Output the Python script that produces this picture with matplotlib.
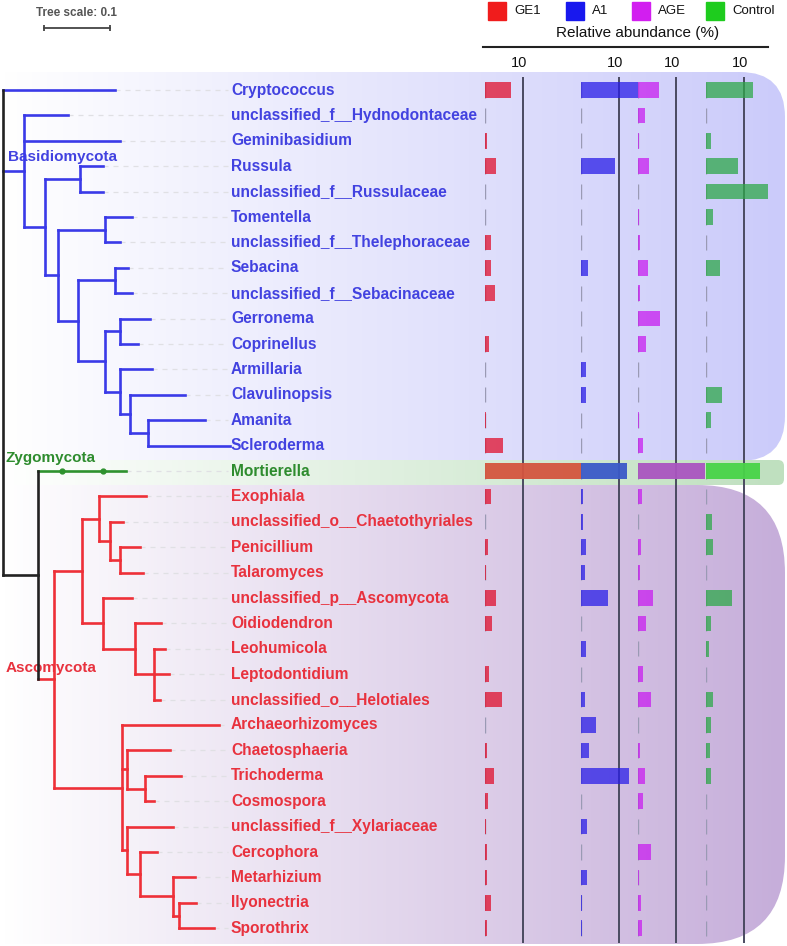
import numpy as np
import matplotlib
matplotlib.use('Agg')
import matplotlib.pyplot as plt
from matplotlib.patches import FancyBboxPatch, Rectangle
from matplotlib.colors import LinearSegmentedColormap

plt.rcParams['font.family'] = ['Liberation Sans', 'DejaVu Sans']

# ---- data -------------------------------------------------------------
genera = ['Cryptococcus', 'unclassified_f__Hydnodontaceae', 'Geminibasidium', 'Russula',
          'unclassified_f__Russulaceae', 'Tomentella', 'unclassified_f__Thelephoraceae',
          'Sebacina', 'unclassified_f__Sebacinaceae', 'Gerronema', 'Coprinellus',
          'Armillaria', 'Clavulinopsis', 'Amanita', 'Scleroderma',
          'Mortierella',
          'Exophiala', 'unclassified_o__Chaetothyriales', 'Penicillium', 'Talaromyces',
          'unclassified_p__Ascomycota', 'Oidiodendron', 'Leohumicola', 'Leptodontidium',
          'unclassified_o__Helotiales', 'Archaeorhizomyces', 'Chaetosphaeria', 'Trichoderma',
          'Cosmospora', 'unclassified_f__Xylariaceae', 'Cercophora', 'Metarhizium',
          'Ilyonectria', 'Sporothrix']
phylum = ['B'] * 15 + ['Z'] + ['A'] * 18
nan = np.nan
# relative abundance (%) per group
ge1 = [6.9, 0, 0.4, 2.9, 0, 0, 1.5, 1.5, 2.6, nan, 1.1, 0, 0, 0.3, 4.6,
       25.2,
       1.5, 0, 0.7, 0.3, 2.8, 1.7, nan, 1.1, 4.5, 0, 0.5, 2.3, 0.8, 0.2, 0.5, 0.5, 1.5, 0.4]
a1 = [15.0, 0, 0, 9.0, 0, 0, 0, 1.7, 0, 0, 0, 1.2, 1.3, 0, 0,
      12.0,
      0.6, 0.6, 1.2, 1.0, 7.0, 0, 1.2, 0, 1.0, 4.0, 2.0, 12.5, 0, 1.6, 0, 1.6, 0.3, 0.2]
age = [5.6, 1.8, 0.3, 3.0, 0, 0.3, 0.4, 2.5, 0.5, 5.7, 2.2, 0, 0, 0.2, 1.4,
       17.6,
       1.0, 0, 0.8, 0.4, 3.8, 2.1, 0, 1.4, 3.4, 0, 0.4, 1.7, 1.3, 0, 3.4, 0.2, 0.8, 1.1]
control = [12.3, 0, 1.3, 8.4, 16.2, 1.7, 0, 3.6, 0, 0, 0, 0, 4.3, 1.2, 0,
           14.2,
           0, 1.6, 1.8, 0, 6.9, 1.4, 0.9, 0, 1.8, 1.2, 1.0, 1.4, 0, 0, 0, 0, 0, 0]
groups = ['GE1', 'A1', 'AGE', 'Control']
highlight = 'Mortierella'

# phylogeny: leaf = (name, branch length), node = ([children], branch length)
tree = ([
    ('Cryptococcus', 0.170),
    ([
        ('unclassified_f__Hydnodontaceae', 0.067),
        ('Geminibasidium', 0.145),
        ([
            ([('Russula', 0.035), ('unclassified_f__Russulaceae', 0.035)], 0.052),
            ([
                ([('Tomentella', 0.041), ('unclassified_f__Thelephoraceae', 0.023)], 0.071),
                ([
                    ([('Sebacina', 0.020), ('unclassified_f__Sebacinaceae', 0.027)], 0.056),
                    ([
                        ([('Gerronema', 0.044), ('Coprinellus', 0.026)], 0.023),
                        ([
                            ('Armillaria', 0.048),
                            ([
                                ('Clavulinopsis', 0.083),
                                ([('Amanita', 0.086), ('Scleroderma', 0.124)], 0.027),
                            ], 0.015),
                        ], 0.023),
                    ], 0.042),
                ], 0.029),
            ], 0.020),
        ], 0.032),
    ], 0.032),
    ([
        ([([('Mortierella', 0.035)], 0.062)], 0.036),
        ([
            ([
                ([
                    ('Exophiala', 0.071),
                    ([
                        ('unclassified_o__Chaetothyriales', 0.020),
                        ([('Penicillium', 0.030), ('Talaromyces', 0.035)], 0.015),
                    ], 0.017),
                ], 0.026),
                ([
                    ('unclassified_p__Ascomycota', 0.044),
                    ([
                        ('Oidiodendron', 0.039),
                        ([('Leohumicola', 0.017), ('Leptodontidium', 0.023),
                          ('unclassified_o__Helotiales', 0.009)], 0.029),
                    ], 0.048),
                ], 0.033),
            ], 0.042),
            ([
                ('Archaeorhizomyces', 0.147),
                ([
                    ('Chaetosphaeria', 0.065),
                    ([('Trichoderma', 0.055), ('Cosmospora', 0.014)], 0.027),
                ], 0.008),
                ([
                    ('unclassified_f__Xylariaceae', 0.070),
                    ([
                        ('Cercophora', 0.026),
                        ([
                            ('Metarhizium', 0.033),
                            ([('Ilyonectria', 0.026), ('Sporothrix', 0.053)], 0.008),
                        ], 0.050),
                    ], 0.020),
                ], 0.008),
            ], 0.103),
        ], 0.024),
    ], 0.053),
], 0.0)

# ---- styling ----------------------------------------------------------
phy_col = {'B': '#3a3ae8', 'Z': '#2e922e', 'A': '#ee3038'}
txt_col = {'B': '#4242e0', 'Z': '#2e8c2e', 'A': '#e8323e'}
bar_cols = ['#e0102e', '#2a1ee8', '#c81ef0', '#2ea84a']
hl_cols = ['#d4553e', '#3a5ac8', '#aa55c0', '#48d448']
leg_cols = ['#f01c1c', '#1818ee', '#d21ef0', '#1ecc1e']

W, H = 787, 946
ROW0, ROWH = 90, 25.4          # pixel y of first row, row spacing
TX0, TPX = 3, 660              # tree root px, px per tree unit
PXPCT = 3.83                   # px per percent in bar panels
bar_base = [485, 581, 638, 706]
bar_span = [120, 75, 80, 80]


def row_of(py):
    return (py - ROW0) / ROWH


fig = plt.figure(figsize=(W / 100, H / 100), dpi=100)

# background canvas (pixel coords)
bg = fig.add_axes([0, 0, 1, 1])


def shade(y0, y1, right, radius, c_right, z):
    box = FancyBboxPatch((-150, y0), right + 150, y1 - y0,
                         boxstyle='round,pad=0,rounding_size=%d' % radius,
                         fc='none', ec='none', transform=bg.transData)
    bg.add_patch(box)
    cmap = LinearSegmentedColormap.from_list('g', ['white', c_right])
    im = bg.imshow(np.linspace(0, 1, 256)[None, :], cmap=cmap, extent=(0, right, y1, y0),
                   aspect='auto', zorder=z, interpolation='bilinear')
    im.set_clip_path(box)


shade(72, 461, 785, 45, '#cbcbfa', 1)
shade(485, 944, 785, 88, '#c6aeda', 1)
shade(460, 485, 784, 6, '#bfe0bf', 2)

# legend + header
for gx, gname, gc in zip([488, 566, 632, 706], groups, leg_cols):
    bg.add_patch(Rectangle((gx, 2), 18, 18, color=gc, zorder=3))
    bg.text(gx + 26, 11, gname, fontsize=9.5, va='center', ha='left', color='#111')
bg.text(638, 33, 'Relative abundance (%)', fontsize=11, ha='center', va='center', color='#111')
bg.plot([483, 768], [47, 47], color='#222', lw=1.5)
bg.set_xlim(0, W)
bg.set_ylim(H, 0)
bg.axis('off')

# tree panel (tree units)
tr = fig.add_axes([0, 0, 1, 1])
tr.set_xlim(-TX0 / TPX, (W - TX0) / TPX)
tr.set_ylim(row_of(H), row_of(0))
tr.axis('off')
tr.patch.set_alpha(0)

row = {g: i for i, g in enumerate(genera)}
label_x = (231 - TX0) / TPX
lw = 1.9


def draw(node, x0):
    item, length = node
    x = x0 + length
    if isinstance(item, str):
        y = row[item]
        c = phy_col[phylum[y]]
        tr.plot([x, label_x - 0.004], [y, y], color='#e0e0e4', lw=0.9,
                ls=(0, (4, 4)), zorder=1)
        tr.text(label_x, y, item, color=txt_col[phylum[y]], fontsize=11.2,
                fontweight='bold', va='center', ha='left', zorder=4)
    else:
        res = [draw(ch, x) for ch in item]
        ys = [r[0] for r in res]
        cs = [r[1] for r in res]
        y = (ys[0] + ys[-1]) / 2
        c = cs[0] if all(cc == cs[0] for cc in cs) else '#222222'
        if len(item) > 1:
            tr.plot([x, x], [ys[0], ys[-1]], color=c, lw=lw,
                    solid_capstyle='projecting', zorder=3)
        else:
            tr.plot(x, y, 'o', color=c, ms=3.5, zorder=3)
    if length > 0:
        tr.plot([x0, x], [y, y], color=c, lw=lw, solid_capstyle='projecting', zorder=3)
    return y, c


draw(tree, 0.0)

# clade names
tr.text((8 - TX0) / TPX, row_of(157), 'Basidiomycota', color=txt_col['B'],
        fontsize=11, fontweight='bold', va='center', ha='left', zorder=2)
tr.text((6 - TX0) / TPX, row_of(458), 'Zygomycota', color=txt_col['Z'],
        fontsize=11, fontweight='bold', va='center', ha='left', zorder=2)
tr.text((6 - TX0) / TPX, row_of(668), 'Ascomycota', color=txt_col['A'],
        fontsize=11, fontweight='bold', va='center', ha='left', zorder=2)

# tree scale
sx = (44 - TX0) / TPX
sy = row_of(28)
tr.plot([sx, sx + 0.1], [sy, sy], color='#444', lw=1.3)
tr.vlines([sx, sx + 0.1], sy - 0.12, sy + 0.12, color='#444', lw=1.3)
tr.text(sx + 0.05, row_of(13), 'Tree scale: 0.1', fontsize=8.5, fontweight='bold',
        color='#555', ha='center', va='center')

# abundance bars
rows = np.arange(len(genera))
is_hl = np.array([g == highlight for g in genera])
for vals, base, span, bc, hc in zip([ge1, a1, age, control], bar_base, bar_span,
                                    bar_cols, hl_cols):
    ax = fig.add_axes([base / W, 0, span / W, 1])
    ax.set_xlim(0, span / PXPCT)
    ax.set_ylim(row_of(H), row_of(0))
    ax.axis('off')
    ax.patch.set_alpha(0)
    v = np.array(vals, dtype=float)
    ok = ~np.isnan(v)
    ax.vlines(10, row_of(77), row_of(943), color='#4a4a60', lw=1.4, zorder=1)
    ax.vlines(np.zeros(ok.sum()), rows[ok] - 0.3, rows[ok] + 0.3, color='#9a9ab4',
              lw=1.0, zorder=2)
    m = ok & ~is_hl
    ax.barh(rows[m], v[m], height=0.62, color=bc, alpha=0.75, lw=0, zorder=3)
    ax.barh(rows[is_hl], v[is_hl], height=0.6, color=hc, alpha=0.95, lw=0, zorder=3)
    ax.annotate('10', (10, row_of(63)), xytext=(-3.2, 0), textcoords='offset points',
                ha='center', va='center', fontsize=10.5, color='#111', annotation_clip=False)

fig.savefig('out.png', dpi=100)
